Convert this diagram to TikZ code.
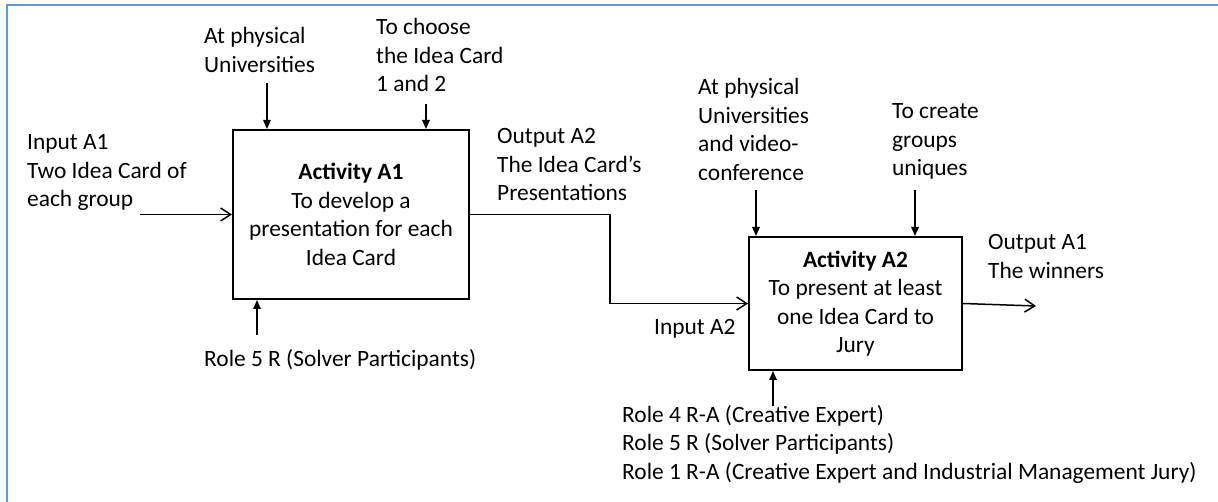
\documentclass[tikz,border=0pt]{standalone}
\usepackage{fontspec}
\setmainfont{Carlito}
\usetikzlibrary{arrows.meta}
\definecolor{frameblue}{RGB}{98,152,210}
\begin{document}
\begin{tikzpicture}[x=1pt,y=-1pt,
  font=\fontsize{23.4}{28.5}\selectfont,
  lbl/.style={anchor=base west, align=left, inner sep=0pt},
  actbox/.style={draw, line width=2pt, align=center, inner sep=0pt},
  varrow/.style={line width=1.5pt, -{Triangle[length=9pt,width=7.5pt]}},
  harrow/.style={line width=1.5pt, -{Straight Barb[length=10pt,width=13pt]}}]
\useasboundingbox (0,0) rectangle (1218,502);
\draw[frameblue, line width=2.5pt] (7,502) -- (7,5) -- (1218,5);

% activity boxes
\node[actbox, minimum width=236pt, minimum height=169pt] (a1) at (351,214.5)
  {\textbf{Activity A1}\\To develop a\\presentation for each\\Idea Card};
\node[actbox, minimum width=213pt, minimum height=133pt] (a2) at (855.5,303.5)
  {\textbf{Activity A2}\\To present at least\\one Idea Card to\\Jury};

% labels (anchor = baseline of the last line)
\node[lbl] (tA1) at (204,72.5) {At physical\\Universities};
\node[lbl] (tB1) at (376,92) {To choose\\the Idea Card\\1 and 2};
\node[lbl] (in1) at (27,207) {Input A1\\Two Idea Card of\\each group};
\node[lbl] (out2) at (497,201) {Output A2\\The Idea Card’s\\Presentations};
\node[lbl] (r1) at (204,367) {Role 5 R (Solver Participants)};
\node[lbl] (tA2) at (698,180.5) {At physical\\Universities\\and video-\\conference};
\node[lbl] (tB2) at (892,176) {To create\\groups\\uniques};
\node[lbl] (out1) at (988,278.5) {Output A1\\The winners};
\node[lbl] (in2) at (654,335) {Input A2};
\node[lbl] (r2) at (622,479) {Role 4 R-A (Creative Expert)\\Role 5 R (Solver Participants)\\Role 1 R-A (Creative Expert and Industrial Management Jury)};

% free ends
\coordinate (cA1) at (267,83);
\coordinate (cB1) at (426,104);
\coordinate (cIn1) at (140,214.5);
\coordinate (cR1) at (257,335);
\coordinate (cA2) at (756,190);
\coordinate (cB2) at (915,190);
\coordinate (cOut1) at (1036,306);
\coordinate (cR2) at (773,406);

% connectors
\draw[varrow] (cA1) -- (cA1 |- a1.north);
\draw[varrow] (cB1) -- (cB1 |- a1.north);
\draw[harrow] (cIn1) -- (a1.west);
\draw[varrow] (cR1) -- (cR1 |- a1.south);
\draw[harrow] (a1.east) -- ++(140,0) |- (a2.west);
\draw[varrow] (cA2) -- (cA2 |- a2.north);
\draw[varrow] (cB2) -- (cB2 |- a2.north);
\draw[harrow] (a2.east) -- (cOut1);
\draw[varrow] (cR2) -- (cR2 |- a2.south);
\end{tikzpicture}
\end{document}
